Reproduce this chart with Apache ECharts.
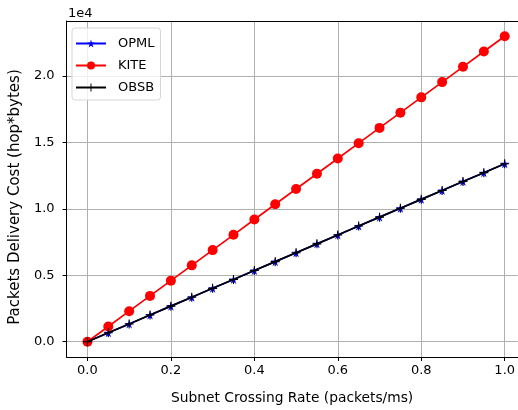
<!DOCTYPE html>
<html>
<head>
<meta charset="utf-8">
<script src="https://cdn.jsdelivr.net/npm/echarts@6/dist/echarts.min.js"></script>
<style>
html,body{margin:0;padding:0;background:#fff;}
#chart{width:518px;height:410px;}
</style>
</head>
<body>
<div id="chart"></div>
<script>
var xValues = [0.00, 0.05, 0.10, 0.15, 0.20, 0.25, 0.30, 0.35, 0.40, 0.45, 0.50, 0.55, 0.60, 0.65, 0.70, 0.75, 0.80, 0.85, 0.90, 0.95, 1.00];
var opml = [0, 670, 1340, 2010, 2680, 3350, 4020, 4690, 5360, 6030, 6700, 7370, 8040, 8710, 9380, 10050, 10720, 11390, 12060, 12730, 13400];
var kite = [0, 1150, 2300, 3450, 4600, 5750, 6900, 8050, 9200, 10350, 11500, 12650, 13800, 14950, 16100, 17250, 18400, 19550, 20700, 21850, 23000];
var obsb = [0, 670, 1340, 2010, 2680, 3350, 4020, 4690, 5360, 6030, 6700, 7370, 8040, 8710, 9380, 10050, 10720, 11390, 12060, 12730, 13400];
var xTicks = [0, 0.2, 0.4, 0.6, 0.8, 1.0];
var yTicks = [0, 5000, 10000, 15000, 20000];

var FONT = 'DejaVu Sans';
var STAR = 'path://M50,0 L61,35 L98,35 L68,57 L79,91 L50,70 L21,91 L32,57 L2,35 L39,35 Z';
var PLUS = 'path://M44,0 L56,0 L56,44 L100,44 L100,56 L56,56 L56,100 L44,100 L44,56 L0,56 L0,44 L44,44 Z';

function pairs(ys){ return xValues.map(function(x,i){ return [x, ys[i]]; }); }

var chart = echarts.init(document.getElementById('chart'), null, {renderer:'canvas'});
chart.setOption({
  animation: false,
  backgroundColor: '#fff',
  textStyle: {fontFamily: FONT},
  title: {
    text: '1e4', left: 63, top: 2,
    textStyle: {fontFamily: FONT, fontSize: 13, fontWeight: 'normal', color: '#000'}
  },
  grid: {left: 65, top: 21, right: 0, bottom: 53, show: false},
  legend: {
    left: 72, top: 28, orient: 'vertical',
    itemWidth: 30, itemHeight: 10, itemGap: 9,
    padding: [9, 6, 6, 3],
    backgroundColor: 'rgba(255,255,255,0.8)',
    borderColor: '#d6d6d6', borderWidth: 1, borderRadius: 3,
    textStyle: {fontFamily: FONT, fontSize: 13, color: '#000', padding: [0, 0, 0, 7]},
    data: ['OPML', 'KITE', 'OBSB']
  },
  xAxis: [{
    type: 'value', min: -0.05, max: 1.031,
    name: 'Subnet Crossing Rate (packets/ms)', nameLocation: 'middle', nameGap: 34,
    nameTextStyle: {fontFamily: FONT, fontSize: 13.8, color: '#000'},
    axisLine: {show: true, onZero: false, lineStyle: {color: '#000', width: 1}},
    axisTick: {show: true, length: 4, inside: false, lineStyle: {color: '#000'}, customValues: xTicks},
    axisLabel: {fontFamily: FONT, fontSize: 13, color: '#000', margin: 7, customValues: xTicks,
      formatter: function(v){ return v.toFixed(1); }},
    splitLine: {show: true, lineStyle: {color: '#b0b0b0', width: 1}}
  }, {
    type: 'value', min: -0.05, max: 1.031, position: 'top',
    axisLine: {show: true, onZero: false, lineStyle: {color: '#000', width: 1}},
    axisTick: {show: false}, axisLabel: {show: false}, splitLine: {show: false}
  }],
  yAxis: {
    type: 'value', min: -1150, max: 24150,
    name: 'Packets Delivery Cost (hop*bytes)', nameLocation: 'middle', nameGap: 34, nameRotate: 90,
    nameTextStyle: {fontFamily: FONT, fontSize: 15, color: '#000', padding: [0, 16, 0, 0]},
    axisLine: {show: true, onZero: false, lineStyle: {color: '#000', width: 1}},
    axisTick: {show: true, length: 4, inside: false, lineStyle: {color: '#000'}, customValues: yTicks},
    axisLabel: {fontFamily: FONT, fontSize: 13, color: '#000', margin: 12, customValues: yTicks,
      formatter: function(v){ return (v/10000).toFixed(1); }},
    splitLine: {show: true, lineStyle: {color: '#b0b0b0', width: 1}}
  },
  series: [
    {name: 'OPML', type: 'line', data: pairs(opml), symbol: STAR, symbolSize: 9,
     lineStyle: {color: '#0000ff', width: 1.7}, itemStyle: {color: '#0000ff'}, z: 2},
    {name: 'KITE', type: 'line', data: pairs(kite), symbol: 'circle', symbolSize: 10,
     lineStyle: {color: '#ff0000', width: 1.7}, itemStyle: {color: '#ff0000'}, z: 3},
    {name: 'OBSB', type: 'line', data: pairs(obsb), symbol: PLUS, symbolSize: 9,
     lineStyle: {color: '#000000', width: 1.7}, itemStyle: {color: '#000000'}, z: 4}
  ]
});
</script>
</body>
</html>
